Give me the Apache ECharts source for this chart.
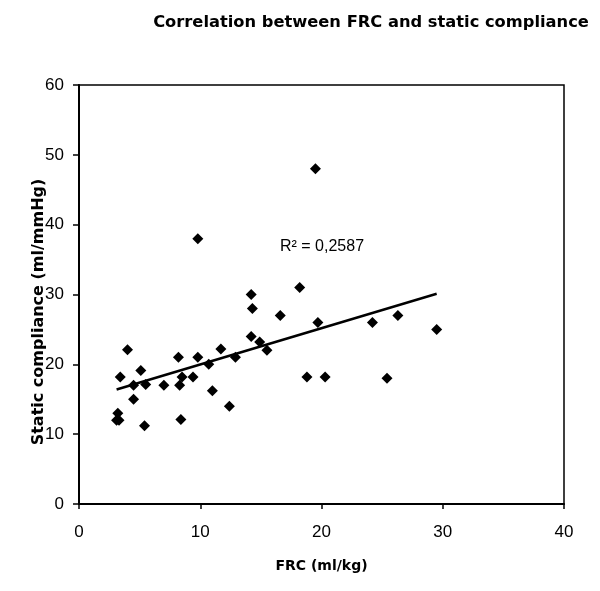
<!DOCTYPE html>
<html>
<head>
<meta charset="utf-8">
<script src="https://cdn.jsdelivr.net/npm/echarts@6/dist/echarts.min.js"></script>
<style>html,body{margin:0;padding:0;background:#fff;}#c{width:600px;height:591px;}</style>
</head>
<body>
<div id="c"></div>
<script>
var frc = [3.1, 3.3, 3.2, 3.4, 4.0, 4.5, 4.5, 5.1, 5.4, 5.5, 7.0, 8.2, 8.4, 8.5, 8.3, 9.4, 9.8, 9.8, 10.7, 11.0, 11.7, 12.4, 12.9, 14.2, 14.3, 14.2, 14.9, 15.5, 16.6, 18.2, 18.8, 19.5, 19.7, 20.3, 24.2, 25.4, 26.3, 29.5];
var compliance = [12, 12, 13, 18.2, 22.1, 17, 15, 19.1, 11.2, 17.1, 17, 21, 12.1, 18.2, 17, 18.2, 21, 38, 20, 16.2, 22.2, 14, 21, 30, 28, 24, 23.2, 22, 27, 31, 18.2, 48, 26, 18.2, 26, 18, 27, 25];
var trendX = [3.1, 29.5];
var trendY = [16.4, 30.1];
var xTicks = [0, 10, 20, 30, 40];
var yTicks = [0, 10, 20, 30, 40, 50, 60];
var titleText = 'Correlation between FRC and static compliance';
var xName = 'FRC (ml/kg)';
var yName = 'Static compliance (ml/mmHg)';
var r2Text = 'R\u00b2 = 0,2587';

var pts = frc.map(function (x, i) { return [x, compliance[i]]; });
var trend = trendX.map(function (x, i) { return [x, trendY[i]]; });

var chart = echarts.init(document.getElementById('c'), null, {renderer: 'canvas'});
chart.setOption({
  animation: false,
  backgroundColor: '#fff',
  title: {
    text: titleText,
    left: 366, top: 10, textAlign: 'center',
    textStyle: {fontFamily: 'DejaVu Sans', fontSize: 16.3, fontWeight: 'bold', color: '#000'}
  },
  grid: {left: 79, right: 36, top: 85, bottom: 87, show: true, borderColor: '#000', borderWidth: 1.5},
  xAxis: {
    type: 'value', min: xTicks[0], max: xTicks[xTicks.length - 1], interval: 10,
    name: xName, nameLocation: 'middle', nameGap: 55,
    nameTextStyle: {fontFamily: 'DejaVu Sans', fontSize: 14, fontWeight: 'bold', color: '#000', verticalAlign: 'top'},
    axisLine: {lineStyle: {color: '#000', width: 2}},
    axisTick: {show: true, inside: false, length: 5, lineStyle: {color: '#000', width: 1.5}},
    axisLabel: {fontFamily: 'Liberation Sans', fontSize: 17, color: '#000', margin: 20},
    splitLine: {show: false}
  },
  yAxis: {
    type: 'value', min: yTicks[0], max: yTicks[yTicks.length - 1], interval: 10,
    axisLine: {lineStyle: {color: '#000', width: 2}},
    axisTick: {show: true, inside: false, length: 6, lineStyle: {color: '#000', width: 1.5}},
    axisLabel: {fontFamily: 'Liberation Sans', fontSize: 17, color: '#000', margin: 15},
    splitLine: {show: false}
  },
  graphic: [{
    type: 'text', x: 39, y: 312, rotation: Math.PI / 2,
    style: {text: yName, fontFamily: 'DejaVu Sans', fontSize: 16, fontWeight: 'bold', fill: '#000', align: 'center', verticalAlign: 'middle'}
  }, {
    type: 'text', left: 280, top: 239,
    style: {text: r2Text, fontFamily: 'Liberation Sans', fontSize: 16, fill: '#000'}
  }],
  series: [
    {
      type: 'line', data: trend, symbol: 'none', silent: true,
      lineStyle: {color: '#000', width: 2.5}, z: 2
    },
    {
      type: 'scatter', data: pts, symbol: 'diamond', symbolSize: [11, 11],
      itemStyle: {color: '#000', opacity: 1}, z: 3
    }
  ]
});
</script>
</body>
</html>
